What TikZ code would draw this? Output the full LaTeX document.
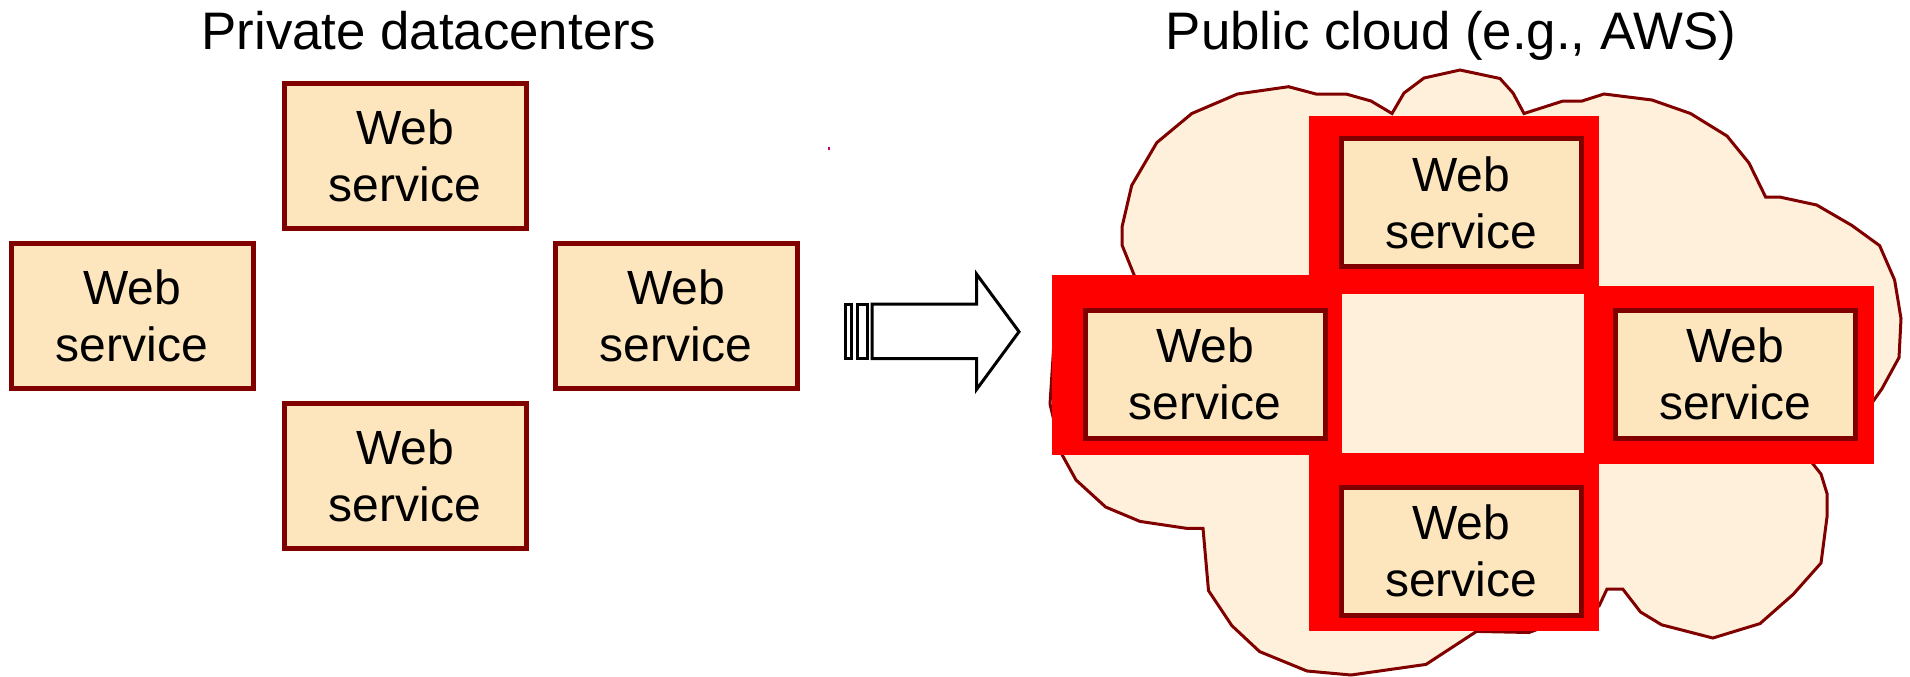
\documentclass[tikz,border=0pt]{standalone}
\usepackage{fontspec}
\setmainfont{Liberation Sans}
\definecolor{boxfill}{RGB}{253,229,189}
\definecolor{cloudfill}{RGB}{254,240,218}
\definecolor{darkred}{RGB}{128,0,0}
\definecolor{hlred}{RGB}{255,0,0}
\definecolor{dotmag}{RGB}{200,0,120}
\begin{document}
\begin{tikzpicture}[x=0.5pt,y=-0.5pt,
  websvc/.style={draw=darkred, fill=boxfill, line width=2.5pt, minimum width=121pt,
    minimum height=72.5pt, inner sep=0pt, align=center,
    font=\fontsize{24}{28.5}\selectfont},
  websvcc/.style={websvc, line width=2.5pt, minimum width=120pt, minimum height=64pt},
  titletext/.style={font=\fontsize{26.4}{31}\selectfont, anchor=base, inner sep=0pt},
  cloudline/.style={draw=darkred, fill=cloudfill, line width=1.5pt, line join=miter},
  arrowline/.style={draw=black, fill=white, line width=1.5pt, line join=miter}]
\useasboundingbox (0,0) rectangle (1910,676);

% titles
\node[titletext] (tleft) at (429,49) {Private datacenters};
\node[titletext] (tright) at (1451,49) {Public cloud (e.g., AWS)};

% left group
\node[websvc] (l1) at (405,155.5) {Web\\service};
\node[websvc] (l2) at (132,315.5) {Web\\service};
\node[websvc] (l3) at (676,315.5) {Web\\service};
\node[websvc] (l4) at (405,475.5) {Web\\service};

% stray dot
\fill[dotmag] (827.7,147) rectangle (829.7,150);

% block arrow
\draw[arrowline] (845.5,304) rectangle (851,358.5);
\draw[arrowline] (857,304) rectangle (867.5,358.5);
\draw[arrowline] (872,304) -- (976.5,304) -- (976.5,274) -- (1019,331.7)
  -- (976.5,389.5) -- (976.5,358.5) -- (872,358.5) -- cycle;

% cloud
\draw[cloudline] (1392,113.5) -- (1404,93) -- (1424,78) -- (1460,70) -- (1500,78.5)
 -- (1513,93) -- (1524,113.5) -- (1563,101) -- (1582,101) -- (1604,94) -- (1652,100)
 -- (1690.5,113.5) -- (1727,136) -- (1749,163) -- (1765.6,197) -- (1779.5,197)
 -- (1816.7,205) -- (1851.8,225.4) -- (1879.6,245.6) -- (1894.6,280) -- (1901,318.6)
 -- (1899,357.5) -- (1882,388.6) -- (1874,400) -- (1852,431) -- (1813,464)
 -- (1821,474) -- (1827,493.5) -- (1827,517) -- (1821,563) -- (1793,594.5)
 -- (1760,623.6) -- (1712.8,638) -- (1661.6,624.8) -- (1640.5,612) -- (1622.7,589)
 -- (1607,589) -- (1599,606) -- (1529,632.5) -- (1476.5,631.4) -- (1426,664.4)
 -- (1351,675) -- (1307,671) -- (1259.6,651.6) -- (1231.8,625.6) -- (1208.5,590.6)
 -- (1203,528.4) -- (1187,528.4) -- (1140,521.4) -- (1105.6,507) -- (1076,480)
 -- (1062,454.6) -- (1050,404) -- (1054,342) -- (1134.5,276) -- (1122,245)
 -- (1122,227) -- (1131.7,185.4) -- (1156.8,142.6) -- (1191.8,113.5) -- (1237.4,94)
 -- (1288.5,86.7) -- (1316,94) -- (1346,94) -- (1371,101) -- cycle;

% red highlight cross
\fill[hlred] (1308.5,115.5) rectangle (1599,631);
\fill[hlred] (1052,275) rectangle (1342,455);
\fill[hlred] (1599,285.5) rectangle (1874,464);
\fill[cloudfill] (1342,293.5) rectangle (1584,452.5);

% right group
\node[websvcc] (r1) at (1461,202.5) {Web\\service};
\node[websvcc] (r2) at (1205,374) {Web\\service};
\node[websvcc] (r3) at (1735,374) {Web\\service};
\node[websvcc] (r4) at (1461,551) {Web\\service};
\end{tikzpicture}
\end{document}
